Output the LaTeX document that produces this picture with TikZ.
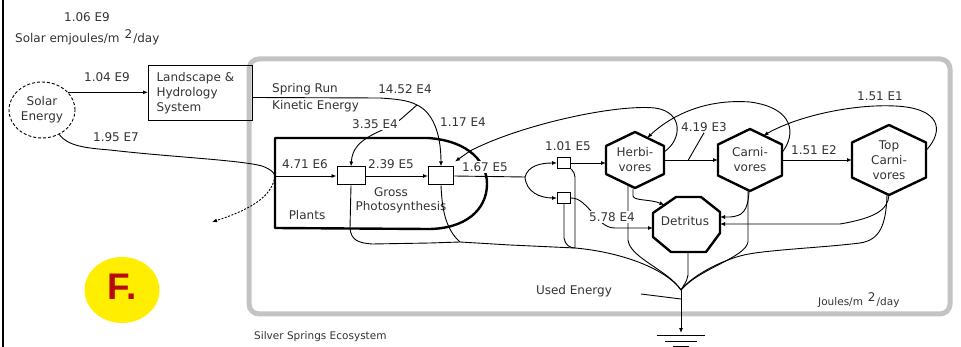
\documentclass[tikz,border=0pt]{standalone}
\usepackage{fontspec}
\setmainfont{DejaVu Sans}
\newfontfamily\ffont{Liberation Sans}
\usetikzlibrary{arrows.meta,calc,shapes.geometric}
\definecolor{framegray}{RGB}{195,195,195}
\definecolor{fyellow}{RGB}{255,238,0}
\definecolor{fred}{RGB}{185,10,10}
\newcommand{\hexshape}[6]{%
  \coordinate (#1-n) at (#2,#3-#5);
  \coordinate (#1-ne) at (#2+#4,#3-#5/2);
  \coordinate (#1-se) at (#2+#4,#3+#5/2);
  \coordinate (#1-s) at (#2,#3+#5);
  \coordinate (#1-sw) at (#2-#4,#3+#5/2);
  \coordinate (#1-nw) at (#2-#4,#3-#5/2);
  \coordinate (#1-e) at (#2+#4,#3);
  \coordinate (#1-w) at (#2-#4,#3);
  \draw[thk] (#1-n) -- (#1-ne) -- (#1-se) -- (#1-s) -- (#1-sw) -- (#1-nw) -- cycle;
  \node[lbl, align=center] (#1) at (#2,#3) {#6};
}
\begin{document}
\begin{tikzpicture}[x=1pt,y=-1pt,
  lbl/.style={font=\fontsize{12}{15}\selectfont, text=black!80, inner sep=1pt},
  smalllbl/.style={font=\fontsize{10.5}{13}\selectfont, text=black!80, inner sep=1pt},
  flow/.style={line width=0.9pt, black},
  arr/.style={flow, -{Latex[length=5pt,width=4pt]}},
  thk/.style={line width=2.4pt, black, line join=round},
  interbox/.style={draw, line width=1pt, fill=white, inner sep=0pt},
  whitelbl/.style={lbl, fill=white},
]
\useasboundingbox (0,0) rectangle (961,347);
% frames
\draw[line width=5pt, framegray, rounded corners=10pt] (249,59) rectangle (950,314);
\draw[line width=1.2pt] (3,0) -- (3,347);

% top-left texts
\node[lbl] (t106) at (87,17) {1.06 E9};
\node[lbl, anchor=west] (tsol) at (14,37) {Solar emjoules/m\hspace{5pt}\raisebox{4pt}{2}\hspace{1pt}/day};

% solar source and landscape
\node[draw, dash pattern=on 3pt off 2pt, ellipse, line width=0.9pt, minimum width=66pt, minimum height=56pt, inner sep=0pt, align=center, lbl] (sun) at (42,110) {Solar\\Energy};
\node[draw, line width=1pt, lbl, align=left, text width=88pt, inner xsep=8pt, minimum height=55pt, anchor=north west] (land) at (148,65) {Landscape \&\\Hydrology\\System};
\node[lbl] (t104) at (107,77) {1.04 E9};
\node[lbl] (t195) at (116,137) {1.95 E7};
\draw[arr] (sun.34) -- (sun.34 -| land.west);

% plants producer
\coordinate (pin) at (275,176);
\draw[thk] (428,138) -- (275,138) -- (275,228) -- (428,229) .. controls (465,229) and (487,210) .. (487,184) .. controls (487,163) and (470,141) .. (428,138);
\node[interbox, minimum width=28pt, minimum height=18pt] (gb1) at (351,176) {};
\node[interbox, minimum width=25pt, minimum height=18pt] (gb2) at (441,176) {};
\node[lbl] (plants) at (307,215) {Plants};
\node[lbl] (gross) at (391,192) {Gross};
\node[lbl] (photo) at (401,207) {Photosynthesis};

% sunlight to plants
\draw[flow] (sun.-55) .. controls (68,146) and (85,148) .. (110,150) .. controls (170,157) and (240,160) .. (262,166) .. controls (270,169) and (274,172) .. (pin);
\draw[flow, dash pattern=on 2pt off 1.5pt, -{Latex[length=5pt,width=4pt]}] (pin) .. controls (272,195) and (255,208) .. (212,222);
\draw[arr] (pin) -- (gb1.west);
\draw[arr] (gb1.east) -- (gb2.west);
\node[lbl] (t471) at (305,164) {4.71 E6};
\node[lbl] (t239) at (391,164) {2.39 E5};

% spring run
\coordinate (spj) at (417,105);
\draw[flow] ($(land.east)+(0,4.5)$) -- (380,98) .. controls (395,99) and (408,100) .. (spj);
\draw[arr] (spj) .. controls (432,112) and (441,132) .. (gb2.north);
\draw[arr] (spj) -- (401,119) .. controls (385,133) and (353,135) .. (gb1.north);
\node[lbl, anchor=west] (tspring) at (271,89) {Spring Run};
\node[lbl, anchor=west] (tkin) at (271,106) {Kinetic Energy};
\node[lbl] (t1452) at (405,89) {14.52 E4};
\node[lbl] (t117) at (463,122) {1.17 E4};

% gross production split
\coordinate (j2) at (525,177);
\node[interbox, minimum width=13pt, minimum height=11pt] (b3) at (564,163) {};
\node[interbox, minimum width=13pt, minimum height=11pt] (b4) at (564,198) {};
\draw[flow] (gb2.east) -- (j2);
\draw[arr] (j2) .. controls (528,166) and (540,163) .. (b3.west);
\draw[arr] (j2) .. controls (526,192) and (540,198) .. (b4.west);
\node[lbl] (t101) at (568,146) {1.01 E5};

% consumers
\hexshape{herb}{635}{160}{29}{28}{Herbi-\\vores}
\hexshape{carn}{750}{160}{32}{31}{Carni-\\vores}
\hexshape{top}{889}{160}{37}{35}{Top\\Carni-\\vores}
\draw[thk] (676,197) -- (701,197) -- (720,212) -- (720,233) -- (706,252) -- (671,252) -- (653,237) -- (653,213) -- cycle;
\node[lbl] (det) at (685,221) {Detritus};
\coordinate (detnw) at (664.5,205);

\draw[arr] (b3.east) -- (b3.east -| herb-w);
\draw[arr] (herb-e) -- (carn-w);
\draw[arr] (carn-e) -- (top-w);
\node[lbl] (t419) at (704,127) {4.19 E3};
\draw[flow] (t419.south) -- ($(herb-e)!0.45!(carn-w)$);
\node[lbl] (t151b) at (814,150) {1.51 E2};
\node[lbl] (t151a) at (880,96) {1.51 E1};

% feedback loops
\draw[arr] ($(herb-ne)+(0,6)$) .. controls (682,140) and (684,112) .. (655,108) .. controls (615,104) and (520,125) .. (470,151) -- ($(gb2.north east)+(1,-5)$);
\draw[arr] ($(carn-ne)+(0,8)$) .. controls (796,135) and (795,108) .. (750,102) .. controls (710,99) and (675,112) .. ($(herb-n)!0.42!(herb-ne)$);
\draw[arr] ($(top-ne)+(0,8)$) .. controls (945,130) and (940,108) .. (895,106) .. controls (855,104) and (800,115) .. ($(carn-n)!0.42!(carn-ne)$);

% detritus inflows
\draw[arr] (b4.east) .. controls (580,198) and (585,205) .. (593,213) .. controls (600,221) and (605,228) .. (615,228) -- (653,228);
\draw[arr] ($(herb-s)+(-2,1)$) -- (633,196) .. controls (634,201) and (650,199) .. (detnw);
\draw[arr] ($(carn-s)+(-1,0)$) .. controls (748,212) and (742,216) .. (730,217) -- (720,217);
\draw[arr] (top-s) .. controls (888,210) and (875,218) .. (840,224) -- (760,224) -- (720,224);

% heat sink
\coordinate (heatj) at (681,290);
\coordinate (bj) at (460,242);
\coordinate (bj2) at (575,248);
\coordinate (gnd) at (681,333);
\draw[flow] (gb1.south) -- (350,228) .. controls (351,240) and (358,243) .. (372,244) -- (430,243) -- (bj);
\draw[flow] (gb2.south) .. controls (442,205) and (444,228) .. (bj);
\draw[flow] (bj) -- (510,245) -- (bj2);
\draw[flow, rounded corners=4pt] (b3.south east) -- (575,173) -- (bj2);
\draw[flow] (b4.south) -- (564,238) .. controls (565,245) and (570,248) .. (bj2);
\draw[flow] (bj2) .. controls (620,252) and (665,268) .. (heatj);
\draw[flow] (628,185) -- (628,240) .. controls (630,258) and (668,270) .. (heatj);
\draw[flow] (688,252) -- (688,275) .. controls (687,282) and (683,286) .. (heatj);
\draw[flow] (748,190) -- (748,242) .. controls (745,258) and (700,268) .. (heatj);
\draw[flow] ($(top-s)+(-2,0)$) .. controls (886,225) and (880,240) .. (860,243) .. controls (820,248) and (760,250) .. (740,256) .. controls (715,263) and (690,278) .. (heatj);
\draw[arr] (heatj) -- (gnd);
\draw[line width=1pt] (657,335) -- (705,335);
\draw[line width=1pt] (665,341) -- (697,341);
\draw[line width=1pt] (673,346) -- (689,346);
\node[lbl] (ue) at (574,291) {Used Energy};
\coordinate (uel) at (641,294);
\draw[flow] (uel) -- (681,299);

% labels on top of lines
\node[whitelbl] (t335) at (375,124) {3.35 E4};
\node[whitelbl] (t167) at (485,167) {1.67 E5};
\node[whitelbl] (t578) at (612,217) {5.78 E4};

% bottom texts
\node[smalllbl, anchor=west] (tsilver) at (253,337) {Silver Springs Ecosystem};
\node[smalllbl, anchor=west] (tjoules) at (817,300) {Joules/m\hspace{5pt}\raisebox{4pt}{\fontsize{12}{12}\selectfont 2}\hspace{1pt}/day};

% F badge
\node[ellipse, fill=fyellow, minimum width=75pt, minimum height=66pt, inner sep=0pt] (fcirc) at (122,290) {};
\node[font=\ffont\bfseries\fontsize{37}{37}\selectfont, text=fred, inner sep=0pt] (fletter) at (122,287) {F.};
\end{tikzpicture}
\end{document}
